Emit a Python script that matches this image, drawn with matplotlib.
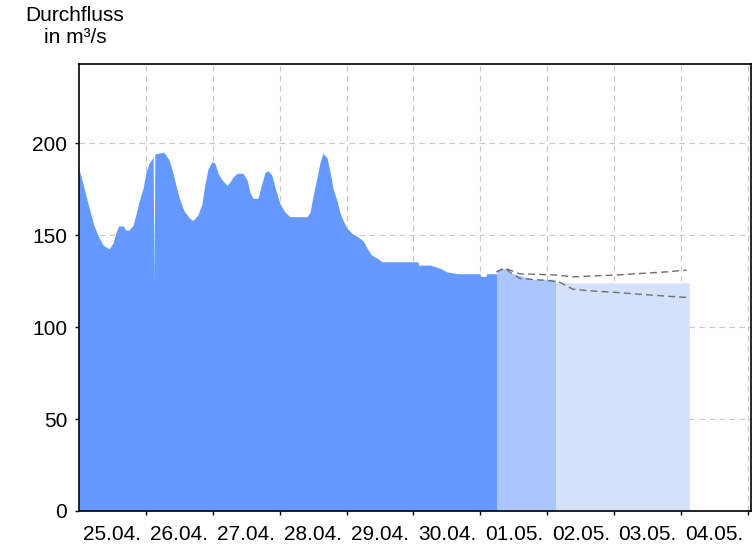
import matplotlib
matplotlib.use("Agg")
import matplotlib.pyplot as plt
from matplotlib.ticker import FixedLocator, NullFormatter

plt.rcParams['font.family'] = ['Liberation Sans', 'DejaVu Sans']

# measured discharge, hours since 25.04. 00:00
obs_hours = [0, 1.4, 3.6, 5.4, 6.8, 8.6, 10.8, 12.2, 13.3, 14.3, 15.8, 16.9, 17.9, 19.4,
             20.4, 21.5, 23, 24, 25.1, 26.5, 26.6, 26.9, 27.2, 28.3, 30.5, 32.3, 33.7,
             34.8, 35.9, 37.3, 38, 39.8, 40.9, 42.7, 44.1, 45.2, 46.3, 47.7, 48.8, 49.9,
             51.3, 53.1, 54.2, 55.2, 56.7, 58.8, 60.3, 61.3, 62.4, 64.2, 65.6, 66.7, 67.8,
             69.2, 70.3, 72.1, 73.9, 75.7, 81.8, 82.9, 83.9, 85.4, 86.4, 87.5, 89, 90,
             91.1, 92.5, 93.6, 94.7, 96.1, 97.9, 100.1, 101.9, 103.7, 105.1, 106.9, 108.7,
             121.6, 121.8, 125.9, 129.5, 132, 136, 143.8, 144.2, 146, 146.3, 150]
obs_values = [186, 178, 165, 155, 150, 144.6, 142.5, 145.6, 151.6, 155, 155, 152.7, 152.7, 155.4,
              161, 168, 175.5, 184, 189, 192, 193, 124, 194, 194.5, 195, 191, 184,
              177, 170.6, 164.6, 162.5, 159, 158, 161, 167, 178, 186, 190, 189, 183.6,
              180, 177, 179, 181.5, 183.6, 183.6, 180, 173.4, 170, 170, 178, 184, 185,
              182.6, 176, 167, 162.5, 160, 160, 162.5, 170.6, 181.5, 189, 194.6, 192, 185,
              175.5, 169, 162.5, 158, 153.8, 151, 149, 147, 142, 139, 137.5, 135.5,
              135.5, 133.7, 133.7, 132, 130, 129, 129, 127.5, 127.5, 129, 129]

# forecast, first day
fc1_hours = [150, 152.8, 154.6, 158.2, 162.9, 169, 171]
fc1_values = [130, 132, 129.5, 128, 126, 126, 126]

# forecast, following days
fc2_hours = [171, 177.2, 219]
fc2_values = [124.5, 124, 124]

# forecast range
band_hours = [149.8, 152.8, 155.2, 158.2, 162.9, 165.4, 169, 171.4, 172.5, 177.2,
              183.3, 192.9, 202.3, 210.8, 218]
upper_values = [130, 132, 130.6, 128.9, 128.7, 128.6, 128.4, 128.3, 128.1, 127.3,
                127.7, 128.3, 129.2, 130, 131]
lower_values = [130, 132, 129.2, 126.4, 125.9, 125.6, 125.2, 124.5, 124.3, 120.6,
                119.7, 118.8, 117.7, 116.8, 116.1]

day_labels = ['25.04.', '26.04.', '27.04.', '28.04.', '29.04.',
              '30.04.', '01.05.', '02.05.', '03.05.', '04.05.']

fig = plt.figure(figsize=(7.56, 5.46), dpi=100)
ax = fig.add_axes([79 / 756, 35 / 546, 672 / 756, 447 / 546])

ax.fill_between(obs_hours, 0, obs_values, color='#6699ff', lw=0, zorder=2)
ax.fill_between(fc1_hours, 0, fc1_values, color='#abc5fd', lw=0, zorder=2)
ax.fill_between(fc2_hours, 0, fc2_values, color='#d5e1fa', lw=0, zorder=2)
ax.plot(band_hours, upper_values, color='#6e6e6e', lw=1, ls=(0, (5, 3)), zorder=3)
ax.plot(band_hours, lower_values, color='#6e6e6e', lw=1, ls=(0, (5, 3)), zorder=3)

ax.set_xlim(0, 241.1)
ax.set_ylim(0, 243)

ax.set_yticks([0, 50, 100, 150, 200])
ax.xaxis.set_major_locator(FixedLocator([24 * i for i in range(1, 11)]))
ax.xaxis.set_major_formatter(NullFormatter())
ax.xaxis.set_minor_locator(FixedLocator([24 * i + 12 for i in range(10)]))
ax.set_xticklabels(day_labels, minor=True)
ax.tick_params(axis='x', which='minor', length=0, pad=10, labelsize=15)
ax.tick_params(axis='x', which='major', length=3, width=1, direction='out')
ax.tick_params(axis='y', length=3, width=1, pad=5.5, labelsize=15)

ax.grid(True, which='major', color='#c8c8c8', ls=(0, (5, 4)), lw=0.8, zorder=1)
ax.set_axisbelow(True)
for sp in ax.spines.values():
    sp.set_linewidth(1.2)
    sp.set_color('black')

fig.text(75 / 756, 1 - 6 / 546, 'Durchfluss\nin m³/s', ha='center', va='top',
         fontsize=15, linespacing=1.2)

fig.savefig('out.png', dpi=100)
